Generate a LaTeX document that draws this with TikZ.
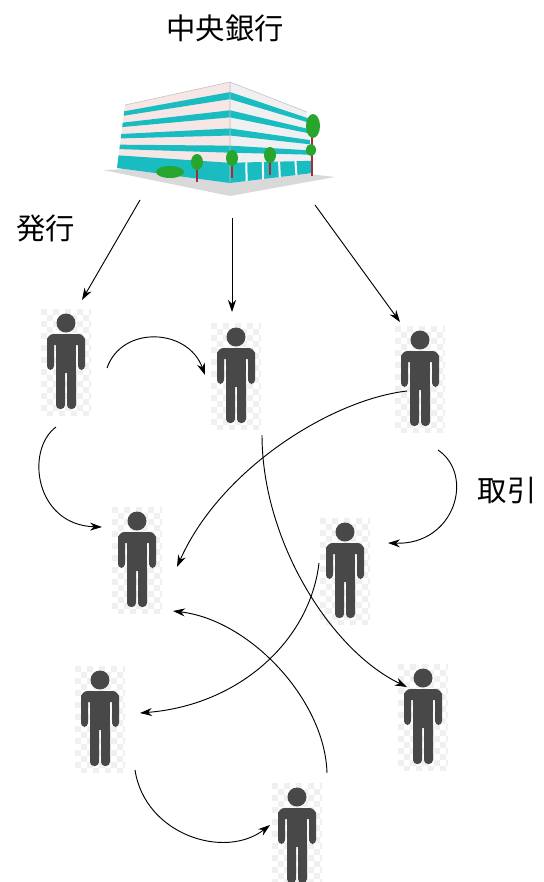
\documentclass[tikz,border=0pt]{standalone}
\usepackage{fontspec}
\setmainfont{Noto Sans CJK JP}
\usetikzlibrary{arrows.meta}
\usetikzlibrary{calc}
\definecolor{bldteal}{RGB}{25,188,192}
\definecolor{bldwall}{RGB}{247,230,230}
\definecolor{bldside}{RGB}{240,240,242}
\definecolor{leaf}{RGB}{40,165,45}
\definecolor{trunk}{RGB}{165,45,55}
\definecolor{figgray}{RGB}{72,72,72}
\tikzset{%
    jptext/.style={font=\fontsize{22}{26}\selectfont},
    issue/.style={draw, line width=0.7pt, -{Stealth[length=9pt, width=6pt]}},
    trade/.style={draw, line width=0.7pt, -{Stealth[length=9pt, width=6pt]}},
    person/.pic={
        \begin{scope}
            \clip (-25,-52) rectangle (25,54);
            \foreach \i in {0,...,8} {
                \foreach \j in {0,...,17} {
                    \pgfmathtruncatemacro\k{mod(\i+\j,2)}
                    \ifnum\k=0 \fill[black!6] (-25+6*\i,-52+6*\j) rectangle +(6,6); \fi
                }
            }
        \end{scope}
        \fill[figgray] (0,-38) circle (9.5);
        \fill[figgray, rounded corners=5] (-19,-27) rectangle (19,-16);
        \fill[figgray, rounded corners=3] (-19,-24) rectangle (-12,9);
        \fill[figgray, rounded corners=3] (12,-24) rectangle (19,9);
        \fill[figgray] (-10,-26) rectangle (10,12);
        \fill[figgray, rounded corners=3] (-10,5) rectangle (-1,48);
        \fill[figgray, rounded corners=3] (1,5) rectangle (10,48);
    }
}

\begin{document}
\begin{tikzpicture}[x=0.75pt, y=-0.75pt]
    \useasboundingbox (0,0) rectangle (543,882);

    \node[jptext] (title) at (225,28) {中央銀行};
    \node[jptext] (issuing) at (46,228) {発行};
    \node[jptext] (trading) at (507,490) {取引};

    % the bank building
    \coordinate (bank) at (215,140);
    \coordinate (L) at (125,105);
    \coordinate (F) at (230,82);
    \coordinate (R) at (307,112);
    \coordinate (Lb) at (117,168);
    \coordinate (Fb) at (230,183);
    \coordinate (Rb) at (313,173);
    \fill[gray!30] (103,170) -- (230,196) -- (335,177) -- (230,165) -- cycle;
    \fill[bldwall] (L) -- (F) -- (Fb) -- (Lb) -- cycle;
    \fill[bldside] (F) -- (R) -- (Rb) -- (Fb) -- cycle;
    \foreach \a/\b in {0.1/0.17, 0.28/0.35, 0.46/0.53, 0.63/0.7, 0.8/1} {
        \fill[bldteal] ($(L)!\a!(Lb)$) -- ($(F)!\a!(Fb)$) -- ($(F)!\b!(Fb)$) -- ($(L)!\b!(Lb)$) -- cycle;
        \fill[bldteal] ($(F)!\a!(Fb)$) -- ($(R)!\a!(Rb)$) -- ($(R)!\b!(Rb)$) -- ($(F)!\b!(Fb)$) -- cycle;
    }
    \foreach \s in {0.2,0.4,0.6,0.8}
        \draw[white, line width=1.5pt] ($($(F)!0.8!(Fb)$)!\s!($(R)!0.8!(Rb)$)$) -- ($(Fb)!\s!(Rb)$);
    \draw[gray!50, line width=0.4pt] (L) -- (F) -- (R) (F) -- (Fb);
    \fill[leaf] (170,172) ellipse (14 and 6);
    \foreach \x/\y in {197/162, 232/158, 270/155} {
        \draw[trunk, line width=1.5pt] (\x,\y) -- (\x,\y+20);
        \fill[leaf] (\x,\y) ellipse (6 and 8);
    }
    \draw[trunk, line width=1.5pt] (312,120) -- (312,176);
    \fill[leaf] (313,126) ellipse (7 and 12);
    \fill[leaf] (311,150) ellipse (5 and 6);

    % people
    \foreach \n/\x/\y in {p1/66/361, p2/236/375, p3/420/378, p4/137/559,
                          p5/345/570, p6/100/718, p7/423/716, p8/297/835} {
        \coordinate (\n) at (\x,\y);
        \pic at (\n) {person};
    }

    % issuing
    \draw[issue] ([shift={(-75,60)}]bank) -- ([shift={(16,-61)}]p1);
    \draw[issue] ([shift={(17,78)}]bank) -- ([shift={(-4,-63)}]p2);
    \draw[issue] ([shift={(100,65)}]bank) -- ([shift={(-20,-56)}]p3);

    % trading
    \draw[trade] ([shift={(41,7)}]p1) .. controls +(15,-43) and +(-17,-47) .. ([shift={(-31,0)}]p2);
    \draw[trade] ([shift={(-10,66)}]p1) .. controls +(-31,23) and +(-67,-2) .. ([shift={(-35,-32)}]p4);
    \draw[trade] ([shift={(-13,13)}]p3) .. controls +(-77,9) and +(43,-97) .. ([shift={(40,8)}]p4);
    \draw[trade] ([shift={(26,60)}]p2) .. controls +(0,105) and +(-77,-37) .. ([shift={(-16,-29)}]p7);
    \draw[trade] ([shift={(18,72)}]p3) .. controls +(37,25) and +(67,2) .. ([shift={(43,-27)}]p5);
    \draw[trade] ([shift={(-26,-7)}]p5) .. controls +(-9,77) and +(100,-8) .. ([shift={(40,-5)}]p6);
    \draw[trade] ([shift={(30,-62)}]p8) .. controls +(-2,-73) and +(77,9) .. ([shift={(36,52)}]p4);
    \draw[trade] ([shift={(35,52)}]p6) .. controls +(10,65) and +(-45,35) .. ([shift={(-27,-10)}]p8);
\end{tikzpicture}
\end{document}
